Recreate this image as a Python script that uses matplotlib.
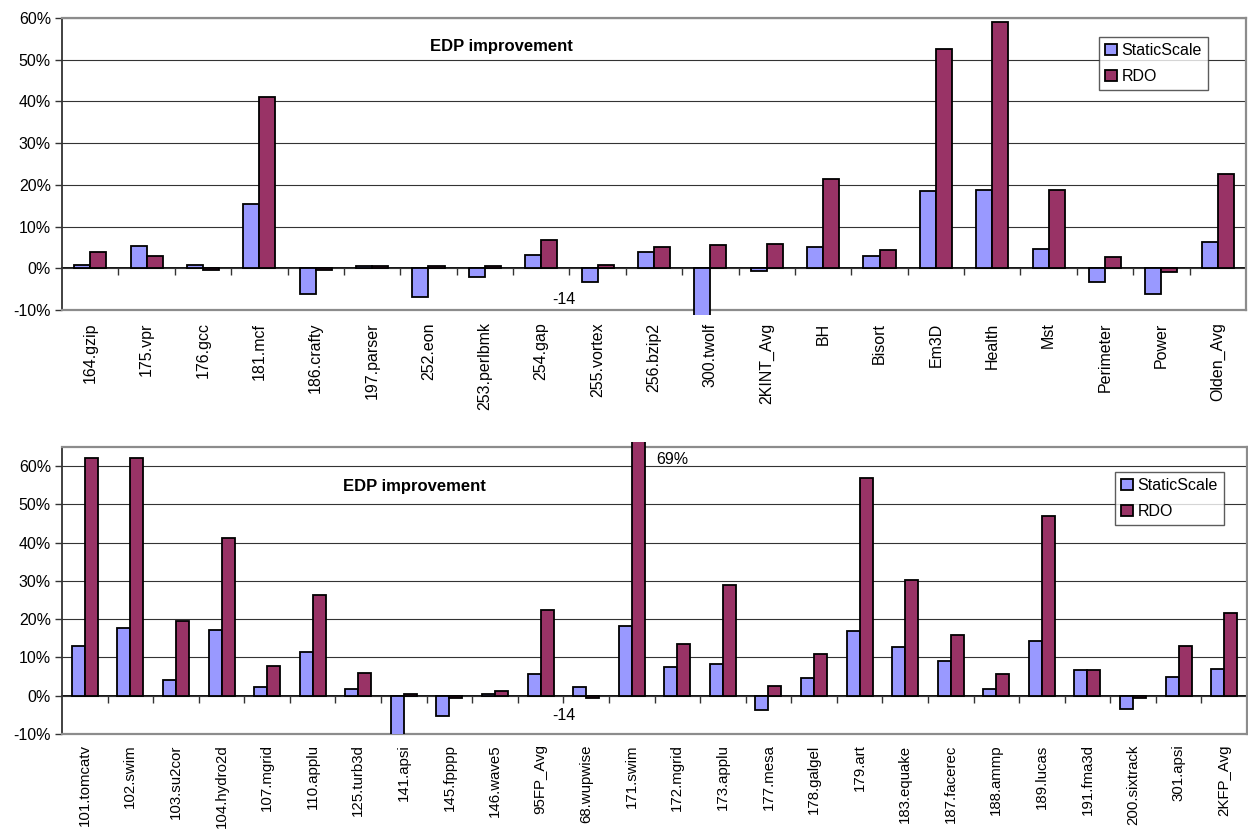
import numpy as np
import matplotlib
matplotlib.use("Agg")
import matplotlib.pyplot as plt
from matplotlib.transforms import Bbox, TransformedBbox

plt.rcParams['font.family'] = ['Liberation Sans', 'DejaVu Sans']

series_names = ["StaticScale", "RDO"]
colors = ["#9999FF", "#993366"]

top_categories = ["164.gzip", "175.vpr", "176.gcc", "181.mcf", "186.crafty", "197.parser",
                  "252.eon", "253.perlbmk", "254.gap", "255.vortex", "256.bzip2", "300.twolf",
                  "2KINT_Avg", "BH", "Bisort", "Em3D", "Health", "Mst", "Perimeter", "Power",
                  "Olden_Avg"]
top_static = [0.7, 5.3, 0.9, 15.3, -6.1, 0.5, -6.9, -2.1, 3.3, -3.4, 3.9, -14.0,
              -0.6, 5.1, 3.0, 18.5, 18.8, 4.7, -3.4, -6.1, 6.2]
top_rdo = [3.9, 2.9, -0.5, 41.1, -0.5, 0.5, 0.5, 0.5, 6.9, 0.7, 5.1, 5.5,
           5.8, 21.3, 4.5, 52.5, 59.0, 18.8, 2.6, -0.9, 22.6]

bot_categories = ["101.tomcatv", "102.swim", "103.su2cor", "104.hydro2d", "107.mgrid",
                  "110.applu", "125.turb3d", "141.apsi", "145.fpppp", "146.wave5",
                  "95FP_Avg", "68.wupwise", "171.swim", "172.mgrid", "173.applu",
                  "177.mesa", "178.galgel", "179.art", "183.equake", "187.facerec",
                  "188.ammp", "189.lucas", "191.fma3d", "200.sixtrack", "301.apsi",
                  "2KFP_Avg"]
bot_static = [13.1, 17.8, 4.1, 17.2, 2.3, 11.3, 1.7, -14.0, -5.2, 0.5, 5.7, 2.4, 18.3,
              7.4, 8.3, -3.8, 4.6, 16.8, 12.7, 9.1, 1.7, 14.4, 6.8, -3.5, 4.8, 7.0]
bot_rdo = [62.0, 62.2, 19.5, 41.1, 7.7, 26.3, 6.0, 0.5, -0.5, 1.2, 22.4, -0.5, 69.0,
           13.5, 29.0, 2.6, 10.8, 57.0, 30.2, 15.8, 5.6, 47.0, 6.6, -0.5, 13.0, 21.6]

title_text = "EDP improvement"

fig = plt.figure(figsize=(12.48, 8.31), dpi=100)
ax_top = fig.add_axes([62/1248, 1-310/831, (1246-62)/1248, (310-18)/831])
ax_bot = fig.add_axes([62/1248, 1-734/831, (1247-62)/1248, (734-447)/831])

FS = 11.5


def draw_panel(ax, cats, s1, s2, ylim, yticks, clip_lo, clip_hi, title_xy, legend_anchor,
               xfs, xpad):
    n = len(cats)
    x = np.arange(n)
    w = 0.285
    b1 = ax.bar(x - w/2, s1, w, color=colors[0], edgecolor='black', linewidth=1.3,
                label=series_names[0], zorder=3)
    b2 = ax.bar(x + w/2, s2, w, color=colors[1], edgecolor='black', linewidth=1.3,
                label=series_names[1], zorder=3)
    cb = TransformedBbox(Bbox([[0, clip_lo], [1, clip_hi]]), ax.transAxes)
    for r in list(b1) + list(b2):
        r.set_clip_path(None)
        r.set_clip_box(cb)
    ax.set_xlim(-0.5, n - 0.5)
    ax.set_ylim(*ylim)
    ax.set_yticks(yticks)
    ax.set_yticklabels([f"{v}%" for v in yticks], fontsize=FS)
    ax.yaxis.grid(True, color='#333333', linewidth=0.8, zorder=0)
    ax.set_axisbelow(True)
    ax.set_xticks(x)
    ax.set_xticklabels(cats, rotation=90, fontsize=xfs, va='top', ha='center')
    ax.tick_params(axis='x', length=0, pad=xpad)
    ax.tick_params(axis='y', length=5, width=1, color='#333333', pad=3)
    for s in ['top', 'bottom', 'right']:
        ax.spines[s].set_color('#8c8c8c')
        ax.spines[s].set_linewidth(1.6)
    ax.spines['left'].set_color('#333333')
    ax.spines['left'].set_linewidth(1.3)
    loc = -ylim[0] / (ylim[1] - ylim[0])
    sec = ax.secondary_xaxis(loc)
    sec.set_xticks([])
    sec.set_xticks(np.arange(1, n) - 0.5, minor=True)
    sec.tick_params(which='minor', direction='out', length=5, width=1, color='#333333')
    sec.spines['bottom'].set_color('black')
    sec.spines['bottom'].set_linewidth(1.3)
    ax.text(title_xy[0], title_xy[1], title_text, transform=fig.transFigure,
            fontsize=12, fontweight='bold', ha='left', va='center')
    leg = ax.legend(loc='upper left', bbox_to_anchor=legend_anchor,
                    bbox_transform=fig.transFigure, fontsize=11.5, frameon=True,
                    fancybox=False, edgecolor='#333333', handlelength=0.7,
                    handleheight=0.7, handletextpad=0.3, borderpad=0.4,
                    labelspacing=0.65, borderaxespad=0)
    leg.get_frame().set_linewidth(1.0)
    for h in leg.legend_handles:
        h.set_linewidth(1.3)


draw_panel(ax_top, top_categories, top_static, top_rdo, (-10, 60),
           list(range(-10, 61, 10)), -0.017, 1.0,
           (430/1248, 1-47/831), (1099/1248, 1-37/831), FS, 9)
draw_panel(ax_bot, bot_categories, bot_static, bot_rdo, (-10, 65),
           list(range(-10, 61, 10)), 0.0, 1.017,
           (343/1248, 1-486/831), (1115/1248, 1-472/831), 10.8, 7.5)

fig.text(552/1248, 1-300/831, "-14", fontsize=FS, ha='left', va='center')
fig.text(552/1248, 1-715/831, "-14", fontsize=FS, ha='left', va='center')
fig.text(656/1248, 1-460/831, "69%", fontsize=FS, ha='left', va='center')

fig.savefig("out.png", dpi=100)
